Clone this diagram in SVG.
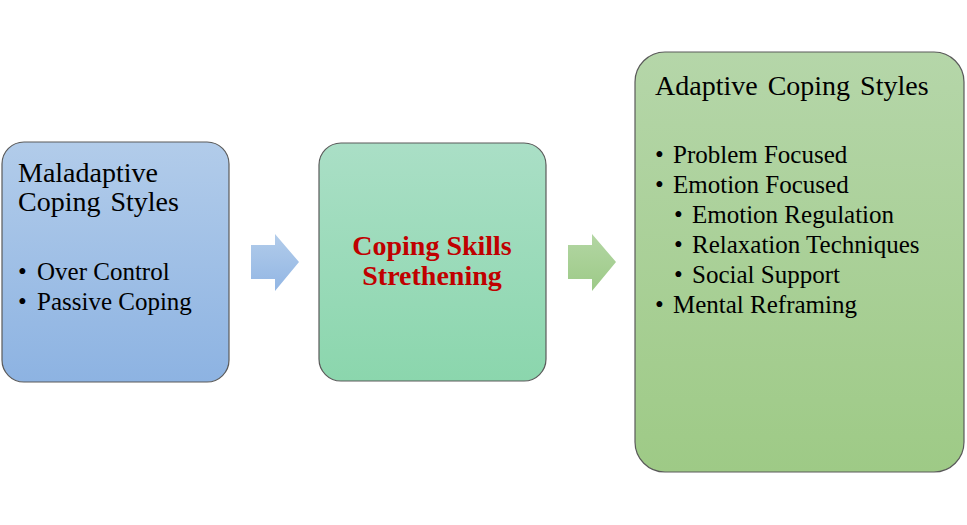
<svg xmlns="http://www.w3.org/2000/svg" width="967" height="525" viewBox="0 0 967 525">
<defs>
<linearGradient id="gBlue" x1="0" y1="0" x2="0" y2="1"><stop offset="0" stop-color="#B2CCEA"/><stop offset="1" stop-color="#8DB3E2"/></linearGradient>
<linearGradient id="gTeal" x1="0" y1="0" x2="0" y2="1"><stop offset="0" stop-color="#AADFC6"/><stop offset="1" stop-color="#8BD6AD"/></linearGradient>
<linearGradient id="gGreen" x1="0" y1="0" x2="0" y2="1"><stop offset="0" stop-color="#B5D6A9"/><stop offset="1" stop-color="#9ECA86"/></linearGradient>
<linearGradient id="gArrB" x1="0" y1="0" x2="0" y2="1"><stop offset="0" stop-color="#B2CCEA"/><stop offset="1" stop-color="#92B6E4"/></linearGradient>
<linearGradient id="gArrG" x1="0" y1="0" x2="0" y2="1"><stop offset="0" stop-color="#B3D6A3"/><stop offset="1" stop-color="#9DCA88"/></linearGradient>
</defs>
<style>
.box{stroke:#5a5a5a;stroke-width:1.2}
.t{font-family:"Liberation Serif","Times New Roman",serif;fill:#000}
.title{font-size:28px;word-spacing:3px}
.item{font-size:25px}
.center{font-family:"Liberation Serif","Times New Roman",serif;font-size:28px;font-weight:bold;fill:#C00000;text-anchor:middle}
</style>
<g id="connectors">
<polygon points="251,245 275,245 275,234 299,262 275,291 275,279 251,279" fill="url(#gArrB)"/>
<polygon points="568,245 592,245 592,234 616,262 592,291 592,279 568,279" fill="url(#gArrG)"/>
</g>
<g id="maladaptive">
<rect class="box" x="2" y="142" width="227" height="240" rx="22" fill="url(#gBlue)"/>
<text class="t title" x="18" y="182">Maladaptive</text>
<text class="t title" x="18" y="211">Coping Styles</text>
<text class="t item" x="18" y="280">•</text><text class="t item" x="37" y="280">Over Control</text>
<text class="t item" x="18" y="310">•</text><text class="t item" x="37" y="310">Passive Coping</text>
</g>
<g id="skills">
<rect class="box" x="319" y="143" width="227" height="238" rx="22" fill="url(#gTeal)"/>
<text class="center" x="432" y="255">Coping Skills</text>
<text class="center" x="432" y="285">Strethening</text>
</g>
<g id="adaptive">
<rect class="box" x="635" y="52" width="329" height="420" rx="30" fill="url(#gGreen)"/>
<text class="t title" x="655" y="95">Adaptive Coping Styles</text>
<text class="t item" x="655" y="163">•</text><text class="t item" x="673" y="163">Problem Focused</text>
<text class="t item" x="655" y="193">•</text><text class="t item" x="673" y="193">Emotion Focused</text>
<text class="t item" x="674" y="223">•</text><text class="t item" x="692" y="223">Emotion Regulation</text>
<text class="t item" x="674" y="253">•</text><text class="t item" x="692" y="253">Relaxation Techniques</text>
<text class="t item" x="674" y="283">•</text><text class="t item" x="692" y="283">Social Support</text>
<text class="t item" x="655" y="313">•</text><text class="t item" x="673" y="313">Mental Reframing</text>
</g>
</svg>
